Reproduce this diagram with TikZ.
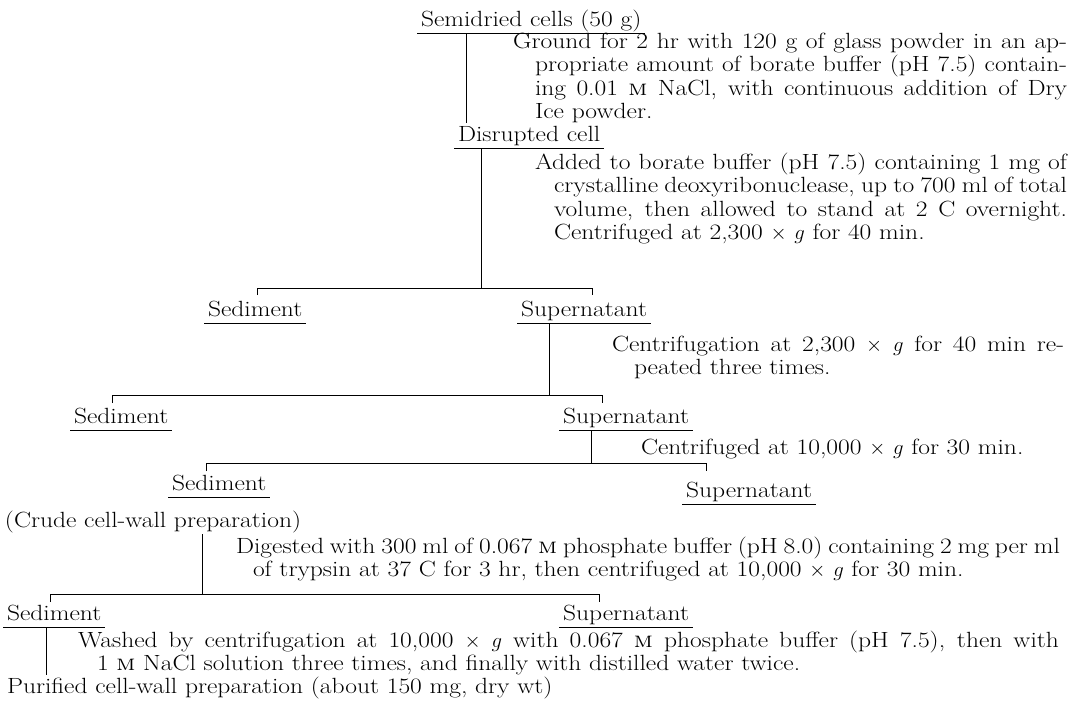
\documentclass[tikz,border=0pt]{standalone}
\usepackage{fontspec}
\setmainfont{Latin Modern Roman}[FakeStretch=1.16]
\newfontfamily\lmcaps{Latin Modern Roman Caps}[FakeStretch=1.16]
\newcommand\molar{{\lmcaps m}}
\newcommand\fsz{\fontsize{22}{23.5}\selectfont}
\newcommand\blk[3]{\parbox[t]{#1}{\tolerance=10000\hangindent=#2\hangafter=1 #3}}
\begin{document}
\begin{tikzpicture}[x=1pt,y=-1pt,
  lbl/.style={anchor=base west,inner sep=0pt,outer sep=0pt,font=\fsz},
  conn/.style={line width=0.9pt,black},
  uline/.style={line width=0.9pt,black}]
\useasboundingbox (0,0) rectangle (1073,702);
% texts
\node[lbl] (semi) at (421,26) {Semidried cells (50 g)};
\node[lbl] (ground) at (513,48) {\blk{554pt}{22pt}{Ground for 2 hr with 120 g of glass powder in an ap-\linebreak propriate amount of borate buffer (pH 7.5) contain-\linebreak ing 0.01 \molar{} NaCl, with continuous addition of Dry\linebreak Ice powder.}};
\node[lbl] (disr) at (458,141) {Disrupted cell};
\node[lbl] (added) at (535,169) {\blk{532pt}{19pt}{Added to borate buffer (pH 7.5) containing 1 mg of\linebreak crystalline deoxyribonuclease, up to 700 ml of total\linebreak volume, then allowed to stand at 2 C overnight.\linebreak Centrifuged at 2,300 $\times$ $g$ for 40 min.}};
\node[lbl] (sed1) at (208,316) {Sediment};
\node[lbl] (sup1) at (521,316) {Supernatant};
\node[lbl] (cfg1) at (612,351) {\blk{452pt}{22pt}{Centrifugation at 2,300 $\times$ $g$ for 40 min re-\linebreak peated three times.}};
\node[lbl] (sed2) at (74,423) {Sediment};
\node[lbl] (sup2) at (563,423) {Supernatant};
\node[lbl] (cfg2) at (641,454) {Centrifuged at 10,000 $\times$ $g$ for 30 min.};
\node[lbl] (sed3) at (172,490) {Sediment};
\node[lbl] (sup3) at (686,497) {Supernatant};
\node[lbl] (crude) at (5,527) {(Crude cell-wall preparation)};
\node[lbl] (dig) at (236,553) {\blk{824pt}{17pt}{Digested with 300 ml of 0.067 \molar{} phosphate buffer (pH 8.0) containing 2 mg per ml\linebreak of trypsin at 37 C for 3 hr, then centrifuged at 10,000 $\times$ $g$ for 30 min.}};
\node[lbl] (sed4) at (7,620) {Sediment};
\node[lbl] (sup4) at (563,620) {Supernatant};
\node[lbl] (wash) at (78,647) {\blk{981pt}{19pt}{Washed by centrifugation at 10,000 $\times$ $g$ with 0.067 \molar{} phosphate buffer (pH 7.5), then with\linebreak 1 \molar{} NaCl solution three times, and finally with distilled water twice.}};
\node[lbl] (pur) at (7,693) {Purified cell-wall preparation (about 150 mg, dry wt)};
% underlines
\foreach \n in {semi,disr,sed1,sup1,sed2,sup2,sed3,sup3,sed4,sup4}{
  \draw[uline] ([shift={(-4,7)}]\n.base west) -- ([shift={(4,7)}]\n.base east);
}
% junction coordinates
\coordinate (j1) at (481,288);
\coordinate (j2) at (549,395);
\coordinate (j3) at (591,463);
\coordinate (j4) at (202,594);
% connectors
\draw[conn] ([shift={(45,7)}]semi.base west) -- ([shift={(8,-18)}]disr.base west);
\draw[conn] ([shift={(23,7)}]disr.base west) -- (j1);
\draw[conn] (257,295) -- (257,288) -- (592,288) -- (592,295);
\draw[conn] ([shift={(28,7)}]sup1.base west) -- (j2);
\draw[conn] (112,403) -- (112,395) -- (602,395) -- (602,403);
\draw[conn] ([shift={(28,7)}]sup2.base west) -- (j3);
\draw[conn] (206,471) -- (206,463) -- (706,463) -- (706,471);
\draw[conn] ([shift={(197,7)}]crude.base west) -- (j4);
\draw[conn] (50,602) -- (50,594) -- (599,594) -- (599,602);
\draw[conn] ([shift={(39,7)}]sed4.base west) -- ([shift={(39,-18)}]pur.base west);
\end{tikzpicture}
\end{document}
